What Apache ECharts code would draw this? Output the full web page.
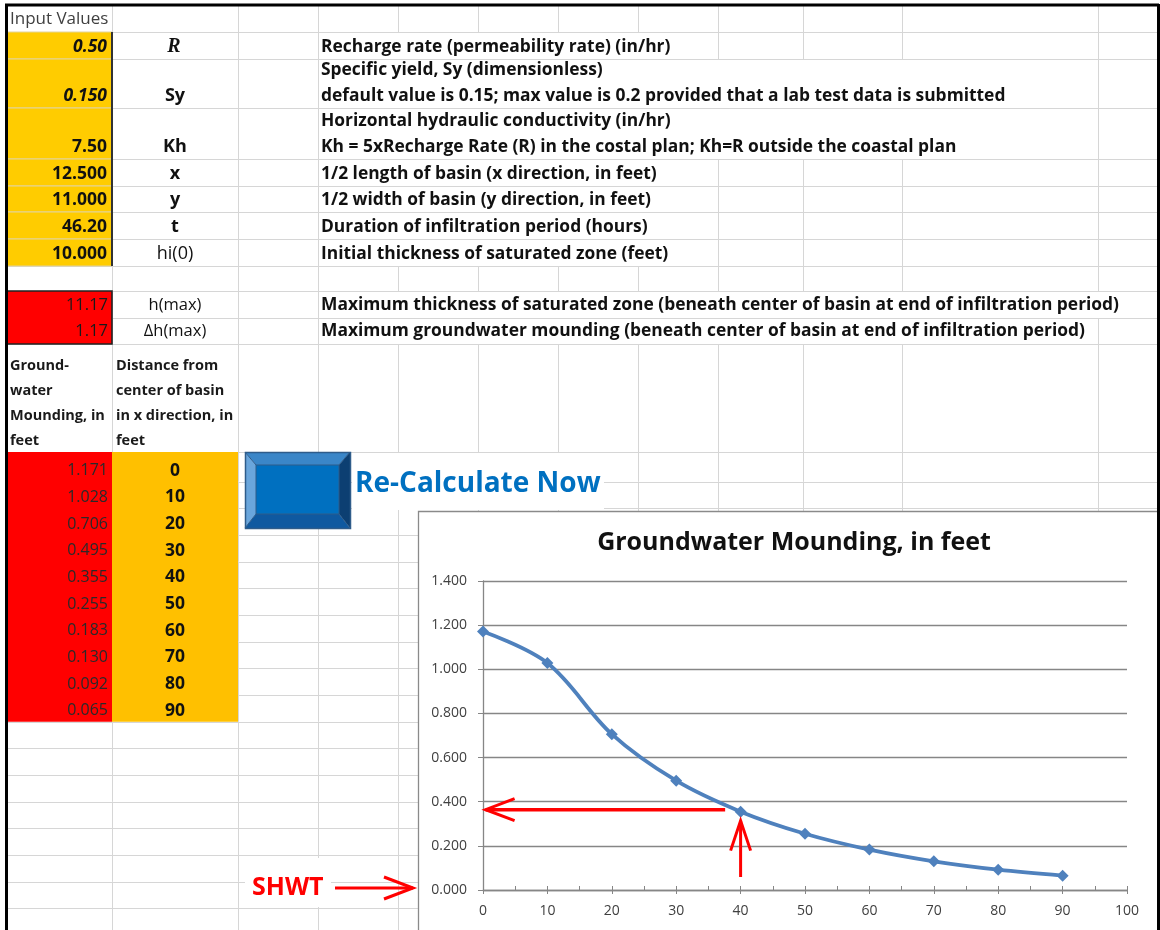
<!DOCTYPE html>
<html>
<head>
<meta charset="utf-8">
<script src="https://cdn.jsdelivr.net/npm/echarts@6/dist/echarts.min.js"></script>
<style>
html, body { margin: 0; padding: 0; background: #fff; }
#main { width: 1160px; height: 930px; }
</style>
</head>
<body>
<div id="main"></div>
<script>
// Input block
const inputValues = ['0.50', '0.150', '7.50', '12.500', '11.000', '46.20', '10.000'];
const inputSymbols = ['R', 'Sy', 'Kh', 'x', 'y', 't', 'hi(0)'];
const inputNotes = [
    ['Recharge rate (permeability rate) (in/hr)'],
    ['Specific yield, Sy (dimensionless)', 'default value is 0.15; max value is 0.2 provided that a lab test data is submitted'],
    ['Horizontal hydraulic conductivity (in/hr)', 'Kh = 5xRecharge Rate (R) in the costal plan; Kh=R outside the coastal plan'],
    ['1/2 length of basin (x direction, in feet)'],
    ['1/2 width of basin (y direction, in feet)'],
    ['Duration of infiltration period (hours)'],
    ['Initial thickness of saturated zone (feet)']
];

// Results block
const resultValues = ['11.17', '1.17'];
const resultSymbols = ['h(max)', 'Δh(max)'];
const resultNotes = [
    'Maximum thickness of saturated zone (beneath center of basin at end of infiltration period)',
    'Maximum groundwater mounding (beneath center of basin at end of infiltration period)'
];

// Table headers
const moundHeader = ['Ground-', 'water', 'Mounding, in', 'feet'];
const distHeader = ['Distance from', 'center of basin', 'in x direction, in', 'feet'];

// Chart data
const distance = [0, 10, 20, 30, 40, 50, 60, 70, 80, 90];
const mounding = [1.171, 1.028, 0.706, 0.495, 0.355, 0.255, 0.183, 0.130, 0.092, 0.065];

// sheet geometry
const colX = [6, 112, 238, 318, 398, 478, 558, 638, 718, 803, 902, 1098, 1158];
const rowY = [5, 32, 59, 108, 159, 186, 212, 239, 266, 291, 318, 344, 452];
for (let k = 0; k < 18; k++) rowY.push(481.7 + k * 26.67);
// overflow text hides gridlines up to this x
const hideUntil = [0, 718, 1098, 1098, 718, 718, 718, 718, 0, 1159, 1098, 0];

const FONT = '"Open Sans", Lato, sans-serif';
const els = [];

function px(v) { return Math.round(v) + 0.5; }
function line(x1, y1, x2, y2, color, w, z) {
    els.push({ type: 'line', z: z, silent: true,
        shape: { x1: x1, y1: y1, x2: x2, y2: y2 },
        style: { stroke: color, lineWidth: w } });
}
function rect(x, y, w, h, fill, stroke, lw, z) {
    els.push({ type: 'rect', z: z, silent: true,
        shape: { x: x, y: y, width: w, height: h },
        style: { fill: fill, stroke: stroke || null, lineWidth: lw || 0 } });
}
function text(str, x, y, font, fill, align, z) {
    els.push({ type: 'text', z: z || 3, silent: true,
        style: { text: str, x: x, y: y, font: font, fill: fill || '#111',
            align: align || 'left', verticalAlign: 'middle' } });
}
function poly(points, fill, z) {
    els.push({ type: 'polygon', z: z, silent: true, shape: { points: points }, style: { fill: fill } });
}
function polyline(points, stroke, w, z) {
    els.push({ type: 'polyline', z: z, silent: true, shape: { points: points },
        style: { stroke: stroke, lineWidth: w, fill: null, lineJoin: 'miter' } });
}

// grid lines
for (let r = 1; r < rowY.length; r++) line(6, px(rowY[r]), 1158, px(rowY[r]), '#d6d6d6', 1, 1);
for (let r = 0; r < rowY.length - 1; r++) {
    colX.slice(1, -1).forEach(cx => {
        if (cx > 318 && cx < (hideUntil[r] || 0)) return;
        line(px(cx), rowY[r], px(cx), rowY[r + 1], '#d6d6d6', 1, 1);
    });
}

// header
text('Input Values', 10, 19, '17px ' + FONT, '#404040');

// input cells
inputValues.forEach((v, i) => {
    const top = rowY[1 + i], bot = rowY[2 + i];
    rect(7, top, 105, bot - top, '#ffcc00', '#e2d39a', 1, 2);
    const yb = bot - 12;
    const italic = i < 2 ? 'italic ' : '';
    text(v, 107, yb, italic + 'bold 17.5px ' + FONT, '#111', 'right');
    if (i === 0) text(inputSymbols[i], 174, yb, 'italic bold 20px "Liberation Serif", serif', '#111', 'center');
    else text(inputSymbols[i], 175, yb, (i === 6 ? '' : 'bold ') + '18px ' + FONT, '#111', 'center');
    const notes = inputNotes[i];
    notes.forEach((n, k) => {
        text(n, 321, bot - 12 - (notes.length - 1 - k) * 26, 'bold 17.4px ' + FONT, '#111');
    });
});
line(112, 32, 112, 266, '#333', 2, 2);

// results
resultValues.forEach((v, i) => {
    const top = rowY[9 + i], bot = rowY[10 + i];
    rect(7, top, 105, bot - top, '#ff0000', null, 0, 2);
    text(v, 108, bot - 13, '16.5px ' + FONT, '#1a1a1a', 'right');
    text(resultSymbols[i], 175, bot - 13, '16.5px ' + FONT, '#111', 'center');
    text(resultNotes[i], 321, bot - 13, 'bold 17.4px ' + FONT, '#111');
});
polyline([[7, 291], [112, 291], [112, 344], [7, 344]], '#222', 1.6, 2);

// table headers
moundHeader.forEach((s, k) => text(s, 10, 366 + k * 25, 'bold 14.5px ' + FONT, '#1a1a1a'));
distHeader.forEach((s, k) => text(s, 116, 366 + k * 25, 'bold 14.5px ' + FONT, '#1a1a1a'));

// table values
rect(7, 452, 105, rowY[22] - 452, '#ff0000', null, 0, 2);
rect(112, 452, 126, rowY[22] - 452, '#ffc000', null, 0, 2);
mounding.forEach((v, i) => {
    const bot = rowY[13 + i];
    text(v.toFixed(3), 108, bot - 11, '16px ' + FONT, '#2a2a2a', 'right');
    text(String(distance[i]), 175, bot - 11, 'bold 17.5px ' + FONT, '#111', 'center');
});

// button
poly([[245, 452], [350, 452], [339, 465], [256, 465]], '#3a86c8', 2);
poly([[245, 452], [256, 465], [256, 514], [245, 528]], '#6aa6dc', 2);
poly([[350, 452], [350, 528], [339, 514], [339, 465]], '#0c3f72', 2);
poly([[245, 528], [350, 528], [339, 514], [256, 514]], '#0f59a0', 2);
rect(256, 465, 83, 49, '#0070c0', '#2f5c8a', 1, 2);
rect(245.5, 452.5, 105, 76, null, '#2f5c8a', 1.5, 2);
line(245, 452, 256, 465, '#2f5c8a', 1, 2);
line(350, 452, 339, 465, '#2f5c8a', 1, 2);
line(245, 528, 256, 514, '#2f5c8a', 1, 2);
line(350, 528, 339, 514, '#2f5c8a', 1, 2);
rect(352, 453, 252, 57, '#fff', null, 0, 2);
text('Re-Calculate Now', 355, 484, 'bold 28px ' + FONT, '#0070c0');

// chart frame
rect(418.5, 511.5, 745, 430, '#fff', '#8a8a8a', 1.3, 4);

// SHWT label
rect(245, 858, 86, 49, '#fff', null, 0, 2);
text('SHWT', 252, 888, 'bold 25px ' + FONT, '#ff0000');

// page border
line(6.5, 4, 6.5, 930, '#000', 3, 30);
line(5, 5, 1159, 5, '#000', 3, 30);
line(1158.5, 4, 1158.5, 930, '#000', 3, 30);

const axisGray = '#868686';
const labelStyle = { color: '#404040', fontSize: 14, fontFamily: FONT };

const chart = echarts.init(document.getElementById('main'));
const option = {
    animation: false,
    backgroundColor: '#fff',
    title: {
        text: 'Groundwater Mounding, in feet',
        left: 789, top: 525, textAlign: 'center',
        textStyle: { fontSize: 25, fontWeight: 'bold', color: '#111', fontFamily: FONT },
        z: 12
    },
    grid: { left: 483, right: 33, top: 581, bottom: 40 },
    xAxis: [{
        type: 'value', min: 0, max: 100, interval: 10, z: 10,
        axisLine: { lineStyle: { color: axisGray, width: 1.3 } },
        axisTick: { length: 4, lineStyle: { color: axisGray } },
        axisLabel: Object.assign({ margin: 14 }, labelStyle),
        splitLine: { show: false }
    }, {
        type: 'value', min: 0, max: 100, interval: 10, position: 'bottom', z: 10,
        axisLine: { show: false },
        axisLabel: { show: false },
        axisTick: { inside: true, length: 4, lineStyle: { color: axisGray } },
        minorTick: { show: true, splitNumber: 2, length: 4, lineStyle: { color: axisGray } },
        splitLine: { show: false }
    }],
    yAxis: {
        type: 'value', min: 0, max: 1.4, interval: 0.2, z: 10,
        axisLine: { show: true, lineStyle: { color: axisGray, width: 1.3 } },
        axisTick: { show: true, length: 5, lineStyle: { color: axisGray } },
        axisLabel: Object.assign({ margin: 16, formatter: v => v.toFixed(3) }, labelStyle),
        splitLine: { lineStyle: { color: axisGray, width: 1.3 } }
    },
    series: [{
        type: 'line', z: 12,
        data: distance.map((d, i) => [d, mounding[i]]),
        smooth: 0.35,
        symbol: 'diamond', symbolSize: 12,
        lineStyle: { color: '#4f81bd', width: 3.8 },
        itemStyle: { color: '#4f81bd' }
    }],
    graphic: { elements: els }
};
chart.setOption(option);

// red annotation arrows, placed through the chart's own scales
const toPx = (x, y) => chart.convertToPixel({ gridIndex: 0 }, [x, y]);
const red = '#ff0000';
const hy = toPx(0, mounding[4])[1] - 2;
const hx0 = toPx(0.4, 0)[0], hx1 = toPx(37.6, 0)[0];
polyline([[hx1, hy], [hx0, hy]], red, 3.5, 20);
polyline([[hx0 + 29, hy - 11], [hx0, hy], [hx0 + 29, hy + 11]], red, 3, 20);

const vx = toPx(distance[4], 0)[0];
const vTip = toPx(0, mounding[4])[1] + 9;
const vTail = toPx(0, 0)[1] - 13;
polyline([[vx, vTail], [vx, vTip]], red, 3, 20);
polyline([[vx - 10, vTip + 30], [vx, vTip], [vx + 10, vTip + 30]], red, 3, 20);

const sy = toPx(0, 0)[1] - 2;
polyline([[335, sy], [413, sy]], red, 3, 20);
polyline([[384, sy - 11], [413, sy], [384, sy + 11]], red, 3, 20);

chart.setOption({ graphic: { elements: els } });
</script>
</body>
</html>
